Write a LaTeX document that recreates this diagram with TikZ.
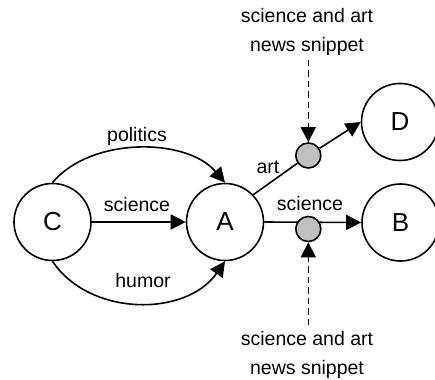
\documentclass[tikz,border=0pt]{standalone}
\usepackage{fontspec}
\setmainfont{Liberation Sans}
\usetikzlibrary{arrows.meta,backgrounds}
\definecolor{dotgray}{RGB}{192,192,192}
\begin{document}
\begin{tikzpicture}[x=1pt,y=-1pt,
  bignode/.style={draw, circle, line width=1.6pt, minimum size=77pt, inner sep=0pt, font=\fontsize{26}{30}\selectfont},
  dotnode/.style={draw, circle, line width=1.6pt, fill=dotgray, minimum size=25pt, inner sep=0pt},
  lbl/.style={font=\fontsize{19.5}{23}\selectfont, inner sep=0pt, anchor=base},
  conn/.style={line width=1.6pt, -{Triangle[length=15pt,width=15pt]}},
  plain/.style={line width=1.6pt},
  dashconn/.style={line width=1.6pt, dash pattern=on 6.5pt off 4pt, -{Triangle[length=15pt,width=15pt]}}
]
\useasboundingbox (0,0) rectangle (435,379);
\node[bignode] (C) at (52.5,222) {C};
\node[bignode] (A) at (225,222) {A};
\node[bignode] (B) at (400.5,222.5) {B};
\node[bignode] (D) at (400,122) {D};
\node[dotnode] (d1) at (308.3,155.5) {};
\node[dotnode] (d2) at (308.3,229) {};
\coordinate (t1) at (308.3,60);
\coordinate (t2) at (308.3,325);
\begin{pgfonlayer}{background}
\draw[conn] (C.north) .. controls (90,137) and (186,137) .. (A.north);
\draw[conn] (C.south) .. controls (90,317) and (186,317) .. (A.south);
\draw[conn] (C.east) -- (A.west);
\draw[plain] (A.44) -- (d1);
\draw[conn] (d1) -- (D.west);
\draw[conn] (A.east) -- (B.west);
\end{pgfonlayer}
\draw[dashconn] (t1) -- (d1.north);
\draw[dashconn] (t2) -- (d2.south);
\node[lbl] (lp) at (137,142) {politics};
\node[lbl] (ls) at (137,211) {science};
\node[lbl] (lh) at (143,287) {humor};
\node[lbl] (la) at (268,173) {art};
\node[lbl] (ls2) at (310,210.5) {science};
\node[lbl] (tt1) at (307,22.7) {science and art};
\node[lbl] (tt2) at (307,51.7) {news snippet};
\node[lbl] (bt1) at (307,345.7) {science and art};
\node[lbl] (bt2) at (307,374.3) {news snippet};
\end{tikzpicture}
\end{document}
